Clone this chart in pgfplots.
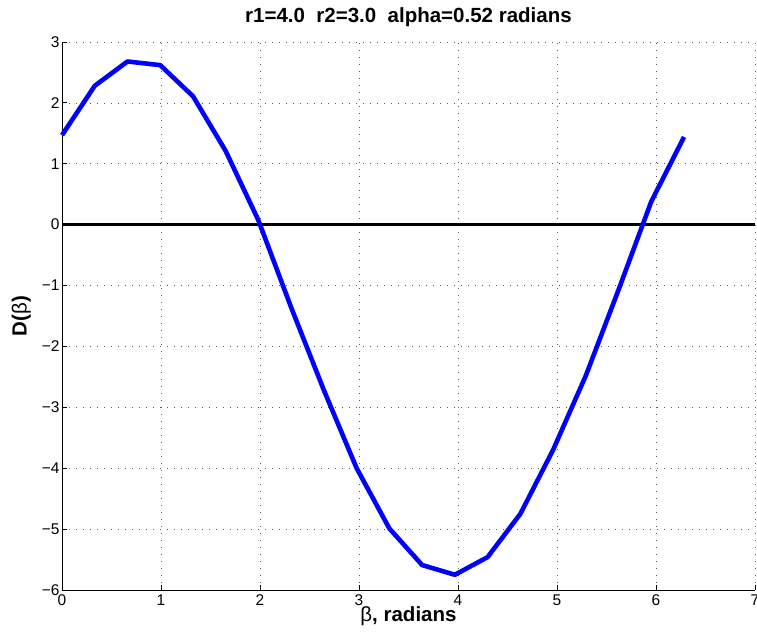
\documentclass[border=0pt]{standalone}
\usepackage{fontspec}
\setmainfont{Liberation Sans}
\usepackage{pgfplots}
\pgfplotsset{compat=1.18}

\begin{document}
\begin{tikzpicture}
\begin{axis}[
 scale only axis,width=693pt,height=548pt,
 xmin=0,xmax=7,ymin=-6,ymax=3,
 axis x line=bottom,axis y line=left,axis line style={-,black,line width=0.9pt},
 xtick={0,...,7},ytick={-6,...,3},
 yticklabels={−6,−5,−4,−3,−2,−1,0,1,2,3},
 /pgf/number format/assume math mode=true,
 tick align=inside,major tick length=5pt,tick style={black,line width=0.8pt},
 tick label style={font=\fontsize{15.5}{17}\selectfont},
 xticklabel style={yshift=-1pt},yticklabel style={xshift=1pt},
 grid=major,grid style={black!65,line width=0.7pt,dash pattern=on 0.9pt off 6.1pt},
 title={\bfseries r1=4.0\ \ r2=3.0\ \ alpha=0.52 radians},
 title style={font=\fontsize{20.5}{24}\selectfont,at={(axis description cs:0.5,1.025)},anchor=base},
 xlabel={{\mdseries β}, radians},ylabel={D({\mdseries β})},
 label style={font=\fontsize{20.5}{24}\selectfont\bfseries},
 xlabel style={at={(axis description cs:0.5,-0.0566)},anchor=base},
 ylabel style={at={(axis description cs:-0.0509,0.5)},anchor=base},
 clip=false,
]
\addplot[black,line width=2.6pt] coordinates {(0,0) (7,0)};
\addplot[blue,line width=4.6pt,line join=round] table[row sep=\\]{
 x y\\
 0.0000 1.47\\
 0.3307 2.28\\
 0.6614 2.68\\
 0.9921 2.62\\
 1.3228 2.11\\
 1.6535 1.21\\
 1.9842 0.07\\
 2.3149 -1.36\\
 2.6456 -2.72\\
 2.9762 -4.00\\
 3.3069 -4.99\\
 3.6376 -5.59\\
 3.9683 -5.75\\
 4.2990 -5.46\\
 4.6297 -4.75\\
 4.9604 -3.70\\
 5.2911 -2.48\\
 5.6218 -1.07\\
 5.9525 0.38\\
 6.2832 1.44\\
};
\end{axis}
\pgfresetboundingbox
\path[use as bounding box] (current axis.south west) ++(-62pt,-44pt) rectangle ++(757pt,634pt);
\end{tikzpicture}
\end{document}
